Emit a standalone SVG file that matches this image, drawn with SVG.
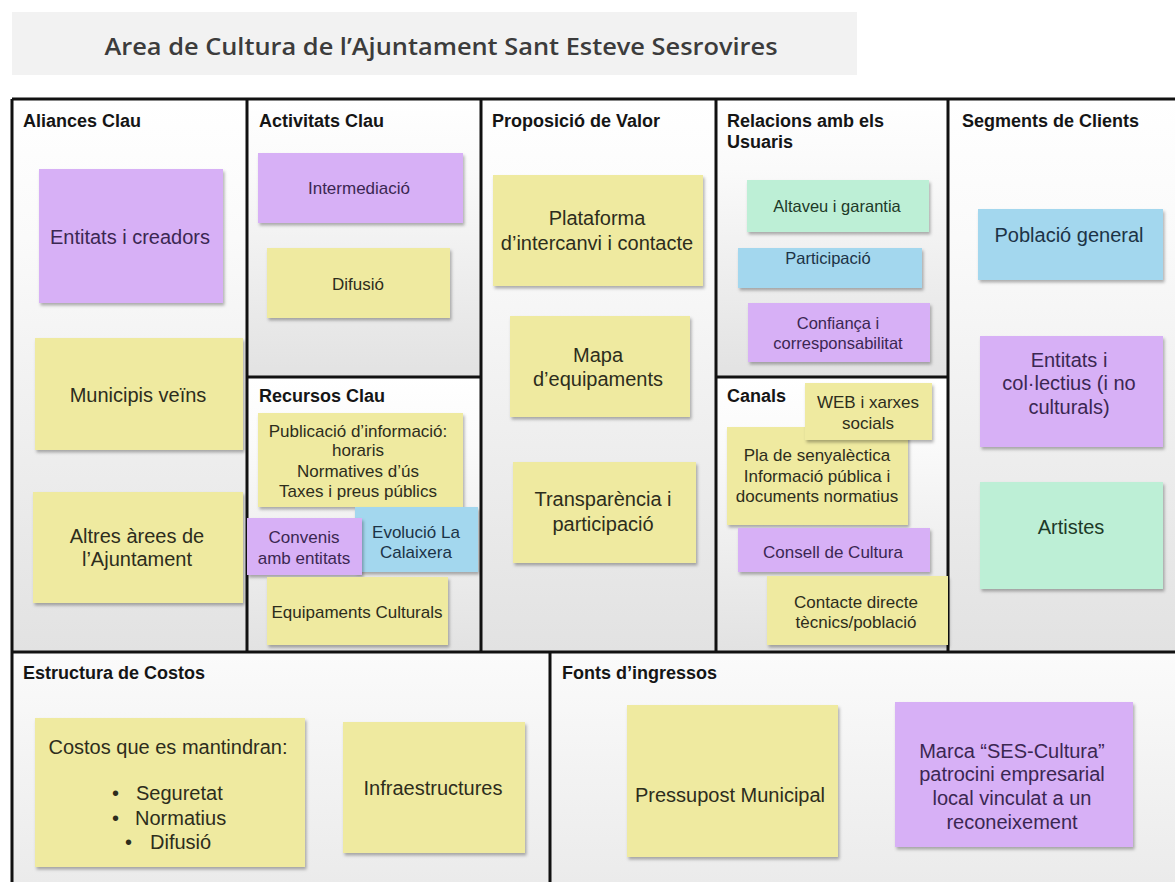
<svg xmlns="http://www.w3.org/2000/svg" width="1175" height="882" viewBox="0 0 1175 882">
<defs>
<linearGradient id="bg" x1="0" y1="0" x2="0" y2="1">
<stop offset="0" stop-color="#ffffff"/>
<stop offset="0.25" stop-color="#fafafa"/>
<stop offset="1" stop-color="#e2e2e2"/>
</linearGradient>
<linearGradient id="bg2" x1="0" y1="0" x2="0" y2="1">
<stop offset="0" stop-color="#fbfbfb"/>
<stop offset="1" stop-color="#ebebeb"/>
</linearGradient>
<filter id="sh" x="-5%" y="-5%" width="115%" height="125%">
<feDropShadow dx="1.5" dy="2.5" stdDeviation="1.5" flood-color="#000" flood-opacity="0.3"/>
</filter>
<style>
.sec{fill:url(#bg)}
.sec2{fill:url(#bg2)}
.hdr{font-family:"Liberation Sans",Arial,Helvetica,sans-serif;font-weight:bold;font-size:18px;fill:#151515}
.n{filter:url(#sh)}
.y{fill:#efeaa0}
.p{fill:#d7b0f6}
.b{fill:#a3d7ee}
.g{fill:#bdefd6}
.t{font-family:"Liberation Sans",Arial,Helvetica,sans-serif;text-anchor:middle}
.s20{font-size:20px}
.s17{font-size:17px}
.s16{font-size:16.5px}
.ty{fill:#2d2d1c}
.tp{fill:#3b2752}
.tb{fill:#1c3346}
.tg{fill:#1d3a28}
.line{stroke:#111;stroke-width:3;fill:none}
</style>
</defs>

<rect x="0" y="0" width="1175" height="882" fill="#ffffff"/>

<g id="title">
<rect x="12" y="12" width="845" height="63" fill="#f2f2f2"/>
<text x="441" y="55" font-family="'Open Sans','Liberation Sans',sans-serif" font-weight="600" font-size="24" fill="#3c3c3c" text-anchor="middle" textLength="673" lengthAdjust="spacingAndGlyphs">Area de Cultura de l’Ajuntament Sant Esteve Sesrovires</text>
</g>

<g id="sections">
<g id="sec-aliances"><rect class="sec" x="12" y="99" width="235" height="553"/><text class="hdr" x="23" y="127">Aliances Clau</text></g>
<g id="sec-activitats"><rect class="sec" x="247" y="99" width="234" height="278"/><text class="hdr" x="259" y="127">Activitats Clau</text></g>
<g id="sec-recursos"><rect class="sec" x="247" y="377" width="234" height="275"/><text class="hdr" x="259" y="402">Recursos Clau</text></g>
<g id="sec-proposicio"><rect class="sec" x="481" y="99" width="235" height="553"/><text class="hdr" x="492" y="127">Proposició de Valor</text></g>
<g id="sec-relacions"><rect class="sec" x="716" y="99" width="232" height="278"/><text class="hdr" x="727" y="127">Relacions amb els</text><text class="hdr" x="727" y="148">Usuaris</text></g>
<g id="sec-canals"><rect class="sec" x="716" y="377" width="232" height="275"/><text class="hdr" x="727" y="402">Canals</text></g>
<g id="sec-segments"><rect class="sec" x="948" y="99" width="227" height="553"/><text class="hdr" x="962" y="127">Segments de Clients</text></g>
<g id="sec-costos"><rect class="sec2" x="12" y="652" width="538" height="230"/><text class="hdr" x="23" y="679">Estructura de Costos</text></g>
<g id="sec-ingressos"><rect class="sec2" x="550" y="652" width="625" height="230"/><text class="hdr" x="562" y="679">Fonts d’ingressos</text></g>
</g>

<g id="grid">
<path class="line" d="M12 99 H1175 M12 99 V882 M247 99 V652 M481 99 V652 M716 99 V652 M948 99 V652 M247 377 H481 M716 377 H948 M12 652 H1175 M550 652 V882"/>
</g>

<g id="connectors"></g>

<!-- Aliances Clau -->
<g id="n-entitats-creadors"><rect class="n p" x="39" y="169" width="184" height="134"/><text class="t s20 tp" x="130" y="244">Entitats i creadors</text></g>
<g id="n-municipis"><rect class="n y" x="35" y="338" width="208" height="112"/><text class="t s20 ty" x="138" y="402">Municipis veïns</text></g>
<g id="n-altres-arees"><rect class="n y" x="33" y="492" width="210" height="111"/><text class="t s20 ty" x="137" y="543">Altres àrees de</text><text class="t s20 ty" x="137" y="566">l’Ajuntament</text></g>

<!-- Activitats Clau -->
<g id="n-intermediacio"><rect class="n p" x="258" y="153" width="205" height="70"/><text class="t s17 tp" x="359" y="194">Intermediació</text></g>
<g id="n-difusio"><rect class="n y" x="267" y="248" width="183" height="70"/><text class="t s17 ty" x="358" y="290">Difusió</text></g>

<!-- Recursos Clau -->
<g id="n-publicacio"><rect class="n y" x="258" y="413" width="205" height="94"/><text class="t s17 ty" x="358" y="437">Publicació d’informació:</text><text class="t s17 ty" x="358" y="456">horaris</text><text class="t s17 ty" x="358" y="477">Normatives d’ús</text><text class="t s17 ty" x="358" y="497">Taxes i preus públics</text></g>
<g id="n-evolucio"><rect class="n b" x="355" y="507" width="123" height="65"/><text class="t s17 tb" x="416" y="538">Evolució La</text><text class="t s17 tb" x="416" y="558">Calaixera</text></g>
<g id="n-convenis"><rect class="n p" x="247" y="518" width="115" height="57"/><text class="t s17 tp" x="304" y="543">Convenis</text><text class="t s17 tp" x="304" y="564">amb entitats</text></g>
<g id="n-equipaments"><rect class="n y" x="267" y="577" width="181" height="68"/><text class="t s17 ty" x="357" y="618">Equipaments Culturals</text></g>

<!-- Proposició de Valor -->
<g id="n-plataforma"><rect class="n y" x="493" y="175" width="210" height="111"/><text class="t s20 ty" x="597" y="225">Plataforma</text><text class="t s20 ty" x="597" y="250">d’intercanvi i contacte</text></g>
<g id="n-mapa"><rect class="n y" x="510" y="316" width="180" height="101"/><text class="t s20 ty" x="598" y="362">Mapa</text><text class="t s20 ty" x="598" y="386">d’equipaments</text></g>
<g id="n-transparencia"><rect class="n y" x="513" y="462" width="183" height="101"/><text class="t s20 ty" x="603" y="506">Transparència i</text><text class="t s20 ty" x="603" y="531">participació</text></g>

<!-- Relacions amb els Usuaris -->
<g id="n-altaveu"><rect class="n g" x="747" y="180" width="182" height="52"/><text class="t s16 tg" x="837" y="212">Altaveu i garantia</text></g>
<g id="n-participacio"><rect class="n b" x="738" y="248" width="184" height="40"/><text class="t s16 tb" x="828" y="264">Participació</text></g>
<g id="n-confianca"><rect class="n p" x="748" y="303" width="182" height="59"/><text class="t s16 tp" x="838" y="329">Confiança i</text><text class="t s16 tp" x="838" y="349">corresponsabilitat</text></g>

<!-- Canals -->
<g id="n-pla-senyaletica"><rect class="n y" x="727" y="427" width="181" height="98"/><text class="t s17 ty" x="817" y="461">Pla de senyalèctica</text><text class="t s17 ty" x="817" y="482">Informació pública i</text><text class="t s17 ty" x="817" y="502">documents normatius</text></g>
<g id="n-web"><rect class="n y" x="805" y="383" width="127" height="57"/><text class="t s17 ty" x="868" y="408">WEB i xarxes</text><text class="t s17 ty" x="868" y="429">socials</text></g>
<g id="n-consell"><rect class="n p" x="738" y="528" width="192" height="44"/><text class="t s17 tp" x="833" y="558">Consell de Cultura</text></g>
<g id="n-contacte"><rect class="n y" x="767" y="576" width="181" height="69"/><text class="t s17 ty" x="856" y="608">Contacte directe</text><text class="t s17 ty" x="856" y="628">tècnics/població</text></g>

<!-- Segments de Clients -->
<g id="n-poblacio"><rect class="n b" x="978" y="209" width="185" height="71"/><text class="t s20 tb" x="1069" y="242">Població general</text></g>
<g id="n-entitats-collectius"><rect class="n p" x="980" y="336" width="183" height="111"/><text class="t s20 tp" x="1069" y="367">Entitats i</text><text class="t s20 tp" x="1069" y="390">col·lectius (i no</text><text class="t s20 tp" x="1069" y="414">culturals)</text></g>
<g id="n-artistes"><rect class="n g" x="980" y="482" width="183" height="107"/><text class="t s20 tg" x="1071" y="534">Artistes</text></g>

<!-- Estructura de Costos -->
<g id="n-costos"><rect class="n y" x="35" y="718" width="270" height="149"/>
<text class="t s20 ty" x="168" y="754">Costos que es mantindran:</text>
<text class="s20 ty" font-family="'Liberation Sans',Arial,sans-serif" x="112" y="800">•</text><text class="s20 ty" font-family="'Liberation Sans',Arial,sans-serif" x="136" y="800">Seguretat</text>
<text class="s20 ty" font-family="'Liberation Sans',Arial,sans-serif" x="112" y="825">•</text><text class="s20 ty" font-family="'Liberation Sans',Arial,sans-serif" x="135" y="825">Normatius</text>
<text class="s20 ty" font-family="'Liberation Sans',Arial,sans-serif" x="125" y="849">•</text><text class="s20 ty" font-family="'Liberation Sans',Arial,sans-serif" x="150" y="849">Difusió</text>
</g>
<g id="n-infraestructures"><rect class="n y" x="343" y="722" width="182" height="131"/><text class="t s20 ty" x="433" y="795">Infraestructures</text></g>

<!-- Fonts d'ingressos -->
<g id="n-pressupost"><rect class="n y" x="627" y="705" width="211" height="152"/><text class="t s20 ty" x="730" y="802">Pressupost Municipal</text></g>
<g id="n-marca"><rect class="n p" x="895" y="702" width="238" height="145"/><text class="t s20 tp" x="1012" y="758">Marca “SES-Cultura”</text><text class="t s20 tp" x="1012" y="781">patrocini empresarial</text><text class="t s20 tp" x="1012" y="805">local vinculat a un</text><text class="t s20 tp" x="1012" y="829">reconeixement</text></g>
</svg>
